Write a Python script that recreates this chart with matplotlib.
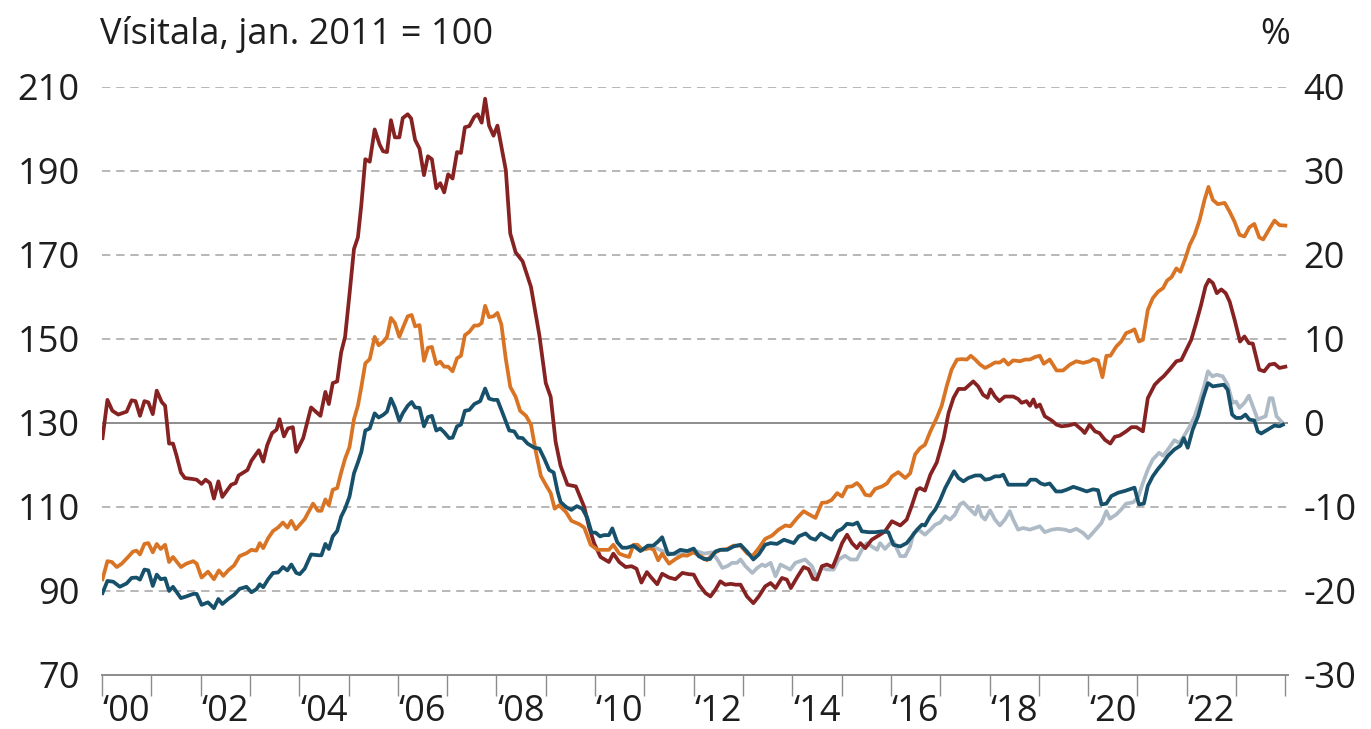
import matplotlib
matplotlib.use("Agg")
import matplotlib.pyplot as plt
import numpy as np

plt.rcParams['font.family'] = ['Open Sans', 'DejaVu Sans']

# values (decimal year, index jan. 2011 = 100)
red_x = [2000.01, 2000.11, 2000.21, 2000.33, 2000.50, 2000.60, 2000.68, 2000.77, 2000.86, 2000.94,
         2001.03, 2001.11, 2001.21, 2001.28, 2001.36, 2001.44, 2001.51, 2001.60, 2001.68, 2001.81,
         2001.92, 2002.02, 2002.10, 2002.19, 2002.27, 2002.36, 2002.44, 2002.52, 2002.62, 2002.71,
         2002.77, 2002.95, 2003.03, 2003.18, 2003.27, 2003.35, 2003.45, 2003.54, 2003.60, 2003.69,
         2003.77, 2003.87, 2003.94, 2004.08, 2004.24, 2004.43, 2004.53, 2004.60, 2004.68, 2004.77,
         2004.85, 2004.93, 2005.02, 2005.11, 2005.19, 2005.26, 2005.34, 2005.43, 2005.53, 2005.63,
         2005.70, 2005.78, 2005.86, 2005.94, 2006.03, 2006.10, 2006.20, 2006.27, 2006.35, 2006.44,
         2006.53, 2006.61, 2006.69, 2006.78, 2006.86, 2006.94, 2007.02, 2007.11, 2007.20, 2007.28,
         2007.36, 2007.45, 2007.55, 2007.62, 2007.70, 2007.77, 2007.85, 2007.94, 2008.02, 2008.19,
         2008.28, 2008.39, 2008.53, 2008.70, 2008.87, 2009.00, 2009.10, 2009.20, 2009.30, 2009.44,
         2009.61, 2009.78, 2009.88, 2009.98, 2010.11, 2010.28, 2010.37, 2010.49, 2010.62, 2010.74,
         2010.84, 2010.94, 2011.05, 2011.14, 2011.26, 2011.36, 2011.50, 2011.63, 2011.77, 2011.90,
         2012.00, 2012.11, 2012.24, 2012.34, 2012.44, 2012.54, 2012.64, 2012.75, 2012.85, 2012.95,
         2013.08, 2013.21, 2013.32, 2013.45, 2013.56, 2013.66, 2013.79, 2013.89, 2013.97, 2014.11,
         2014.23, 2014.33, 2014.42, 2014.50, 2014.60, 2014.70, 2014.82, 2014.91, 2015.01, 2015.11,
         2015.21, 2015.31, 2015.38, 2015.48, 2015.61, 2015.75, 2015.88, 2016.02, 2016.12, 2016.19,
         2016.32, 2016.42, 2016.53, 2016.59, 2016.69, 2016.80, 2016.93, 2017.07, 2017.17, 2017.27,
         2017.37, 2017.50, 2017.67, 2017.77, 2017.87, 2017.96, 2018.02, 2018.11, 2018.20, 2018.31,
         2018.48, 2018.58, 2018.65, 2018.75, 2018.82, 2018.89, 2018.95, 2019.02, 2019.12, 2019.26,
         2019.36, 2019.46, 2019.60, 2019.73, 2019.87, 2019.93, 2020.03, 2020.14, 2020.23, 2020.34,
         2020.45, 2020.54, 2020.64, 2020.77, 2020.88, 2020.98, 2021.11, 2021.21, 2021.35, 2021.45,
         2021.53, 2021.65, 2021.79, 2021.89, 2021.99, 2022.09, 2022.19, 2022.29, 2022.38, 2022.45,
         2022.53, 2022.61, 2022.70, 2022.79, 2022.87, 2022.97, 2023.08, 2023.17, 2023.26, 2023.34,
         2023.47, 2023.57, 2023.68, 2023.78, 2023.88, 2024.00]
red_y = [126.4, 135.5, 132.9, 132.0, 132.7, 135.4, 135.2, 131.7, 135.2, 134.9,
         132.1, 137.7, 135.0, 134.1, 125.1, 125.1, 122.3, 118.2, 116.9, 116.7,
         116.5, 115.5, 116.5, 115.7, 112.0, 116.1, 112.4, 113.7, 115.3, 115.7,
         117.5, 118.8, 121.0, 123.5, 120.8, 124.7, 127.6, 128.4, 130.9, 126.8,
         128.7, 129.0, 123.1, 126.4, 133.7, 131.7, 137.4, 134.5, 139.5, 139.9,
         146.8, 150.5, 160.7, 171.4, 174.2, 182.0, 192.8, 192.2, 199.9, 196.3,
         194.7, 194.5, 202.1, 198.0, 198.0, 202.6, 203.5, 202.5, 197.4, 195.3,
         189.0, 193.5, 192.8, 185.9, 187.1, 184.9, 189.2, 188.2, 194.5, 194.3,
         200.4, 200.7, 202.9, 203.5, 201.5, 207.2, 200.8, 198.4, 200.8, 190.2,
         175.1, 170.6, 168.5, 162.4, 150.9, 139.5, 136.2, 125.5, 119.8, 115.3,
         114.9, 110.0, 105.1, 101.4, 98.1, 96.9, 98.9, 96.9, 95.7, 95.9,
         95.3, 92.0, 94.5, 93.2, 91.6, 94.1, 93.2, 92.8, 94.3, 94.0,
         93.9, 91.5, 89.5, 88.7, 90.3, 92.3, 91.5, 91.7, 91.5, 91.5,
         88.7, 87.1, 88.7, 91.1, 91.9, 90.7, 93.1, 92.7, 90.7, 93.5,
         95.7, 95.2, 92.9, 92.7, 95.9, 96.3, 95.7, 98.3, 101.4, 103.4,
         101.4, 100.2, 101.4, 100.2, 102.2, 103.2, 104.2, 106.6, 106.0, 105.6,
         107.0, 110.2, 114.1, 114.5, 113.9, 117.7, 120.6, 126.4, 132.4, 136.0,
         138.1, 138.1, 139.9, 138.7, 136.7, 136.0, 138.0, 136.3, 135.2, 136.3,
         136.3, 135.7, 134.8, 135.2, 134.1, 135.6, 133.8, 134.4, 131.6, 130.6,
         129.6, 129.2, 129.4, 129.8, 128.4, 127.6, 129.6, 128.0, 127.6, 126.0,
         125.1, 126.7, 127.0, 128.0, 129.0, 129.0, 128.0, 135.9, 139.1, 140.3,
         141.1, 142.7, 144.7, 145.0, 147.4, 149.8, 153.8, 158.1, 162.5, 164.1,
         163.3, 160.9, 161.8, 160.9, 158.9, 154.6, 149.4, 150.6, 149.0, 148.9,
         142.7, 142.3, 143.9, 144.1, 143.1, 143.4]

orange_x = [2000.01, 2000.11, 2000.20, 2000.30, 2000.40, 2000.53, 2000.63, 2000.70, 2000.77, 2000.86,
            2000.94, 2001.03, 2001.11, 2001.19, 2001.28, 2001.36, 2001.44, 2001.60, 2001.71, 2001.85,
            2001.92, 2002.02, 2002.15, 2002.27, 2002.37, 2002.46, 2002.56, 2002.68, 2002.79, 2002.93,
            2003.03, 2003.13, 2003.20, 2003.27, 2003.37, 2003.47, 2003.57, 2003.67, 2003.76, 2003.84,
            2003.93, 2004.11, 2004.28, 2004.38, 2004.45, 2004.53, 2004.60, 2004.68, 2004.77, 2004.85,
            2004.93, 2005.02, 2005.11, 2005.19, 2005.26, 2005.34, 2005.43, 2005.53, 2005.61, 2005.70,
            2005.78, 2005.86, 2005.94, 2006.03, 2006.10, 2006.20, 2006.28, 2006.35, 2006.44, 2006.53,
            2006.61, 2006.69, 2006.78, 2006.86, 2006.94, 2007.02, 2007.11, 2007.20, 2007.28, 2007.36,
            2007.45, 2007.55, 2007.63, 2007.70, 2007.77, 2007.85, 2007.94, 2008.02, 2008.10, 2008.19,
            2008.28, 2008.39, 2008.48, 2008.60, 2008.70, 2008.80, 2008.90, 2009.00, 2009.10, 2009.18,
            2009.27, 2009.41, 2009.52, 2009.68, 2009.78, 2009.91, 2010.05, 2010.18, 2010.28, 2010.37,
            2010.49, 2010.60, 2010.69, 2010.78, 2010.86, 2010.96, 2011.11, 2011.19, 2011.28, 2011.36,
            2011.50, 2011.63, 2011.77, 2011.87, 2011.99, 2012.14, 2012.27, 2012.41, 2012.54, 2012.68,
            2012.81, 2012.95, 2013.08, 2013.19, 2013.32, 2013.45, 2013.59, 2013.72, 2013.86, 2013.96,
            2014.10, 2014.23, 2014.33, 2014.47, 2014.60, 2014.70, 2014.80, 2014.91, 2015.01, 2015.11,
            2015.21, 2015.31, 2015.38, 2015.48, 2015.58, 2015.68, 2015.82, 2015.92, 2016.02, 2016.15,
            2016.29, 2016.39, 2016.49, 2016.59, 2016.69, 2016.80, 2016.93, 2017.03, 2017.13, 2017.23,
            2017.34, 2017.44, 2017.54, 2017.62, 2017.71, 2017.81, 2017.91, 2018.01, 2018.11, 2018.21,
            2018.29, 2018.38, 2018.48, 2018.62, 2018.72, 2018.82, 2018.92, 2019.02, 2019.10, 2019.22,
            2019.36, 2019.49, 2019.63, 2019.76, 2019.90, 2020.03, 2020.10, 2020.20, 2020.29, 2020.37,
            2020.45, 2020.57, 2020.67, 2020.77, 2020.86, 2020.94, 2021.03, 2021.11, 2021.21, 2021.31,
            2021.42, 2021.52, 2021.60, 2021.69, 2021.79, 2021.87, 2021.96, 2022.06, 2022.16, 2022.26,
            2022.36, 2022.44, 2022.53, 2022.63, 2022.77, 2022.87, 2022.97, 2023.07, 2023.17, 2023.27,
            2023.37, 2023.47, 2023.55, 2023.68, 2023.78, 2023.88, 2024.00]
orange_y = [92.8, 97.1, 96.9, 95.7, 96.5, 98.1, 99.4, 99.6, 98.7, 101.2,
            101.4, 99.2, 101.2, 100.0, 101.0, 96.9, 98.1, 95.7, 96.5, 97.1,
            96.5, 93.2, 94.6, 92.8, 94.9, 93.6, 94.9, 96.1, 98.3, 99.0,
            99.8, 99.6, 101.4, 100.2, 102.6, 104.3, 105.1, 106.3, 105.1, 106.7,
            104.7, 107.1, 110.8, 109.1, 109.1, 111.8, 110.4, 114.1, 114.5, 118.2,
            121.5, 124.3, 130.9, 134.1, 138.6, 144.2, 145.2, 150.5, 148.5, 149.3,
            150.5, 155.0, 153.8, 150.5, 152.6, 155.4, 155.7, 153.0, 153.3, 144.8,
            147.9, 148.1, 144.0, 144.6, 143.4, 143.4, 142.3, 145.4, 146.0, 150.9,
            151.7, 153.2, 153.2, 153.8, 157.9, 155.2, 155.4, 156.2, 153.4, 145.2,
            138.6, 136.2, 132.9, 131.7, 129.6, 123.1, 117.4, 115.3, 113.3, 109.6,
            110.4, 108.8, 106.7, 105.9, 105.1, 101.0, 99.8, 99.8, 99.8, 101.0,
            98.9, 98.4, 98.1, 101.0, 101.0, 99.8, 100.2, 99.8, 97.3, 98.9,
            96.5, 97.6, 98.5, 98.4, 99.2, 98.3, 97.3, 99.0, 99.8, 100.0,
            100.8, 100.8, 99.0, 98.3, 100.2, 102.4, 103.2, 104.6, 105.6, 105.4,
            107.4, 109.0, 108.3, 107.4, 111.0, 111.1, 111.7, 113.3, 112.5, 114.8,
            114.9, 115.7, 114.9, 112.9, 112.7, 114.3, 114.9, 115.6, 117.3, 118.3,
            116.9, 118.0, 122.5, 124.0, 124.8, 128.0, 131.2, 134.1, 138.7, 142.7,
            145.1, 145.2, 145.1, 146.0, 145.1, 143.9, 143.1, 143.7, 144.4, 144.4,
            145.1, 143.9, 144.9, 144.7, 145.1, 145.1, 145.7, 146.0, 144.1, 145.1,
            142.5, 142.5, 143.9, 144.7, 144.3, 144.7, 145.2, 144.9, 140.9, 146.0,
            146.0, 148.2, 149.4, 151.4, 151.8, 152.3, 149.4, 149.8, 156.9, 159.7,
            161.3, 162.1, 163.9, 164.7, 166.8, 166.0, 168.8, 172.4, 174.8, 178.3,
            183.1, 186.2, 183.1, 182.1, 182.4, 180.3, 177.9, 174.8, 174.4, 176.6,
            177.4, 174.2, 173.7, 176.3, 178.2, 177.1, 177.0]

teal_x = [2000.01, 2000.11, 2000.23, 2000.36, 2000.50, 2000.60, 2000.70, 2000.77, 2000.86, 2000.94,
          2001.03, 2001.11, 2001.19, 2001.28, 2001.36, 2001.44, 2001.60, 2001.71, 2001.85, 2001.92,
          2002.02, 2002.15, 2002.27, 2002.36, 2002.44, 2002.56, 2002.68, 2002.79, 2002.93, 2003.03,
          2003.13, 2003.20, 2003.27, 2003.37, 2003.47, 2003.57, 2003.67, 2003.76, 2003.84, 2003.94,
          2004.01, 2004.11, 2004.24, 2004.39, 2004.45, 2004.53, 2004.60, 2004.68, 2004.77, 2004.85,
          2004.93, 2005.02, 2005.11, 2005.19, 2005.26, 2005.34, 2005.43, 2005.53, 2005.61, 2005.70,
          2005.78, 2005.86, 2005.94, 2006.03, 2006.10, 2006.20, 2006.28, 2006.35, 2006.44, 2006.53,
          2006.61, 2006.69, 2006.78, 2006.86, 2006.94, 2007.04, 2007.11, 2007.20, 2007.28, 2007.36,
          2007.45, 2007.55, 2007.67, 2007.77, 2007.85, 2007.94, 2008.02, 2008.12, 2008.26, 2008.36,
          2008.44, 2008.53, 2008.63, 2008.77, 2008.87, 2008.97, 2009.07, 2009.16, 2009.24, 2009.30,
          2009.41, 2009.52, 2009.63, 2009.74, 2009.84, 2009.93, 2010.01, 2010.10, 2010.18, 2010.28,
          2010.35, 2010.45, 2010.55, 2010.65, 2010.78, 2010.92, 2011.07, 2011.18, 2011.28, 2011.36,
          2011.48, 2011.60, 2011.73, 2011.87, 2012.00, 2012.10, 2012.21, 2012.33, 2012.44, 2012.54,
          2012.68, 2012.81, 2012.95, 2013.08, 2013.21, 2013.32, 2013.45, 2013.56, 2013.69, 2013.83,
          2013.93, 2014.03, 2014.13, 2014.27, 2014.37, 2014.47, 2014.58, 2014.69, 2014.80, 2014.91,
          2015.01, 2015.11, 2015.23, 2015.32, 2015.41, 2015.55, 2015.68, 2015.82, 2015.95, 2016.05,
          2016.19, 2016.32, 2016.42, 2016.53, 2016.63, 2016.69, 2016.80, 2016.90, 2017.00, 2017.10,
          2017.19, 2017.28, 2017.37, 2017.47, 2017.57, 2017.71, 2017.82, 2017.91, 2018.01, 2018.11,
          2018.21, 2018.28, 2018.38, 2018.52, 2018.65, 2018.75, 2018.83, 2018.94, 2019.04, 2019.12,
          2019.22, 2019.35, 2019.46, 2019.56, 2019.70, 2019.83, 2019.97, 2020.10, 2020.20, 2020.27,
          2020.37, 2020.47, 2020.61, 2020.74, 2020.84, 2020.94, 2021.03, 2021.13, 2021.21, 2021.31,
          2021.42, 2021.52, 2021.62, 2021.75, 2021.87, 2021.94, 2022.02, 2022.12, 2022.23, 2022.33,
          2022.43, 2022.53, 2022.63, 2022.75, 2022.83, 2022.92, 2023.00, 2023.10, 2023.19, 2023.27,
          2023.37, 2023.44, 2023.51, 2023.64, 2023.78, 2023.88, 2023.95]
teal_y = [89.5, 92.4, 92.2, 91.0, 91.8, 93.1, 93.2, 92.7, 95.1, 94.9,
          91.2, 93.9, 92.8, 93.0, 90.0, 91.0, 88.3, 88.7, 89.3, 89.3,
          86.7, 87.3, 85.9, 88.1, 86.9, 88.1, 89.1, 90.5, 91.0, 89.7,
          90.4, 91.6, 90.9, 92.8, 94.3, 94.4, 95.7, 94.9, 96.3, 94.3,
          94.0, 95.3, 98.7, 98.5, 98.5, 101.2, 100.0, 103.0, 104.3, 107.7,
          109.6, 112.5, 118.0, 120.6, 123.1, 128.2, 128.7, 132.3, 131.3, 131.9,
          132.7, 135.8, 133.7, 130.5, 132.3, 134.1, 135.0, 133.7, 133.6, 129.2,
          131.4, 131.7, 128.2, 128.7, 127.8, 126.4, 126.5, 129.2, 129.6, 132.9,
          133.1, 134.5, 135.2, 138.2, 135.8, 135.5, 135.5, 132.5, 128.2, 128.0,
          126.5, 126.4, 125.1, 124.1, 123.9, 121.5, 118.8, 118.2, 113.7, 111.2,
          110.0, 109.3, 110.2, 109.6, 107.5, 103.9, 103.9, 103.0, 103.3, 103.3,
          104.9, 101.6, 100.3, 100.3, 100.8, 99.5, 100.8, 100.8, 101.8, 102.8,
          98.7, 98.9, 99.8, 99.5, 100.1, 98.3, 97.6, 97.6, 99.4, 99.8,
          99.8, 100.6, 101.0, 99.4, 97.5, 98.7, 101.0, 101.4, 101.2, 102.2,
          101.8, 101.4, 103.0, 103.7, 102.6, 102.2, 103.7, 102.9, 102.2, 104.2,
          104.8, 106.0, 105.8, 106.3, 104.2, 104.0, 104.0, 104.2, 104.0, 101.0,
          100.6, 101.4, 102.9, 104.6, 105.8, 105.6, 107.9, 109.4, 111.7, 114.5,
          116.5, 118.5, 116.9, 116.1, 116.9, 117.5, 117.5, 116.5, 116.7, 117.3,
          117.3, 117.7, 115.3, 115.3, 115.3, 115.3, 116.5, 116.5, 115.6, 115.3,
          115.6, 113.7, 113.7, 114.1, 114.8, 114.3, 113.7, 114.2, 114.0, 110.6,
          110.8, 112.6, 113.4, 113.8, 114.2, 114.6, 110.6, 110.8, 115.0, 117.3,
          119.1, 120.5, 122.2, 123.7, 124.6, 126.4, 124.1, 128.4, 131.6, 135.9,
          139.5, 138.7, 138.9, 139.1, 137.9, 132.0, 131.2, 131.2, 132.0, 130.8,
          130.6, 128.0, 127.5, 128.4, 129.4, 129.2, 129.6]

gray_x = [2011.23, 2011.35, 2011.50, 2011.65, 2011.80, 2011.95, 2012.08, 2012.21, 2012.37, 2012.48,
          2012.58, 2012.68, 2012.78, 2012.88, 2012.95, 2013.05, 2013.19, 2013.29, 2013.39, 2013.45,
          2013.56, 2013.66, 2013.76, 2013.86, 2013.96, 2014.06, 2014.16, 2014.26, 2014.40, 2014.50,
          2014.60, 2014.70, 2014.84, 2014.94, 2015.07, 2015.18, 2015.31, 2015.41, 2015.51, 2015.61,
          2015.72, 2015.78, 2015.88, 2015.99, 2016.05, 2016.19, 2016.29, 2016.39, 2016.46, 2016.56,
          2016.69, 2016.80, 2016.90, 2017.00, 2017.10, 2017.20, 2017.30, 2017.40, 2017.47, 2017.54,
          2017.64, 2017.71, 2017.77, 2017.84, 2017.91, 2018.01, 2018.11, 2018.21, 2018.31, 2018.41,
          2018.48, 2018.58, 2018.68, 2018.82, 2018.92, 2019.02, 2019.12, 2019.26, 2019.39, 2019.53,
          2019.63, 2019.76, 2019.90, 2020.00, 2020.10, 2020.27, 2020.37, 2020.44, 2020.57, 2020.67,
          2020.77, 2020.91, 2021.01, 2021.11, 2021.21, 2021.31, 2021.44, 2021.52, 2021.62, 2021.75,
          2021.85, 2021.96, 2022.06, 2022.16, 2022.26, 2022.36, 2022.43, 2022.52, 2022.61, 2022.73,
          2022.83, 2022.93, 2023.00, 2023.07, 2023.17, 2023.26, 2023.34, 2023.44, 2023.51, 2023.60,
          2023.68, 2023.74, 2023.82, 2023.93]
gray_y = [100.3, 99.6, 99.0, 98.7, 99.2, 99.6, 99.4, 98.9, 99.2, 97.5,
          95.5, 95.9, 96.7, 96.7, 97.5, 95.9, 94.3, 95.5, 96.3, 95.9,
          96.7, 93.5, 96.3, 95.7, 95.1, 96.7, 97.1, 97.5, 95.9, 93.1,
          95.5, 95.1, 95.1, 97.5, 98.4, 97.5, 97.5, 99.8, 101.4, 100.6,
          99.8, 101.4, 100.0, 101.4, 101.8, 98.3, 98.3, 100.6, 103.8, 104.6,
          103.4, 104.6, 105.8, 106.3, 107.8, 107.0, 108.2, 110.6, 111.1, 110.2,
          109.0, 108.2, 110.2, 107.8, 107.0, 109.2, 107.0, 105.6, 107.0, 109.0,
          107.0, 104.6, 105.0, 104.6, 105.0, 105.4, 104.0, 104.6, 104.8, 104.6,
          104.2, 104.8, 103.8, 102.6, 103.9, 106.2, 109.0, 107.2, 108.2, 109.4,
          110.8, 111.1, 112.2, 115.7, 118.9, 121.3, 122.9, 122.2, 123.7, 125.9,
          125.2, 127.2, 129.2, 131.6, 135.1, 139.1, 142.3, 141.1, 141.5, 141.1,
          139.1, 134.8, 135.1, 133.6, 134.8, 136.5, 134.0, 130.8, 131.2, 131.6,
          135.9, 135.9, 131.6, 130.2]

tick_years = list(range(2000, 2025))
label_years = [2000, 2002, 2004, 2006, 2008, 2010, 2012, 2014, 2016, 2018, 2020, 2022]
left_ticks = [70, 90, 110, 130, 150, 170, 190, 210]
right_ticks = [-30, -20, -10, 0, 10, 20, 30, 40]

fs = 26
txt_col = '#1e1e1e'

fig = plt.figure(figsize=(13.71, 7.29), dpi=100)
ax = fig.add_axes([0.0744, 0.0741, 0.8653, 0.8066])

grid_col = '#aaaaaa'
for v in left_ticks[1:]:
    if v == 130:
        ax.axhline(v, color='#8c8c8c', lw=1.4, zorder=1)
    else:
        ax.axhline(v, color=grid_col, lw=1.2, ls=(0, (5, 3.5)), zorder=1)

ax.plot(gray_x, gray_y, color='#aebbc6', lw=2.7, zorder=2)
ax.plot(red_x, red_y, color='#862222', lw=2.7, zorder=3)
ax.plot(orange_x, orange_y, color='#d87424', lw=2.7, zorder=3)
ax.plot(teal_x, teal_y, color='#17506a', lw=2.7, zorder=4)

ax.set_xlim(2000, 2024.06)
ax.set_ylim(70, 210)
ax.set_yticks(left_ticks)
ax.set_yticklabels([str(v) for v in left_ticks])

ax.set_xticks(tick_years)
ax.set_xticklabels([])
ax.set_xticks([y + 0.5 for y in label_years], minor=True)
ax.set_xticklabels(["\u2018" + str(y)[2:] for y in label_years], minor=True)
ax.tick_params(axis='x', which='major', length=15, width=1.0, color='#8c8c8c')
ax.tick_params(axis='x', which='minor', length=0, pad=14, labelsize=fs, labelcolor=txt_col)
ax.tick_params(axis='y', length=0, pad=16, labelsize=fs, labelcolor=txt_col)

for s in ['top', 'right', 'left']:
    ax.spines[s].set_visible(False)
ax.spines['bottom'].set_color('#8c8c8c')
ax.spines['bottom'].set_linewidth(1.4)

ax2 = ax.twinx()
ax2.set_ylim(-30, 40)
ax2.set_yticks(right_ticks)
ax2.set_yticklabels([str(v) for v in right_ticks])
ax2.tick_params(axis='y', length=0, pad=11, labelsize=fs, labelcolor=txt_col)
for s in ax2.spines.values():
    s.set_visible(False)

fig.text(0.073, 0.952, "Vísitala, jan. 2011 = 100", fontsize=fs, color=txt_col,
         ha='left', va='center')
fig.text(0.941, 0.952, "%", fontsize=fs, color=txt_col, ha='right', va='center')

fig.savefig("out.png", dpi=100)
